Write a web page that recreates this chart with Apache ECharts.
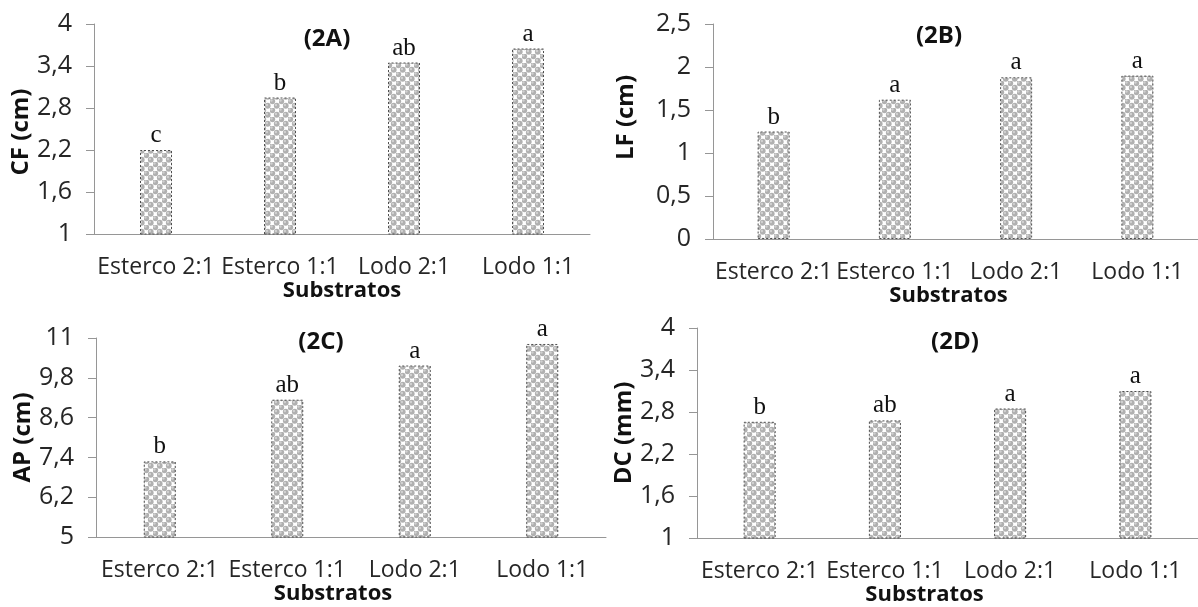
<!DOCTYPE html>
<html>
<head>
<meta charset="utf-8">
<script src="https://cdn.jsdelivr.net/npm/echarts@6/dist/echarts.min.js"></script>
<style>
html,body{margin:0;padding:0;background:#fff;}
#chart{width:1198px;height:607px;}
</style>
</head>
<body>
<div id="chart"></div>
<script>
// ---- data ----
const categories = ['Esterco 2:1', 'Esterco 1:1', 'Lodo 2:1', 'Lodo 1:1'];
const panelTitles = ['(2A)', '(2B)', '(2C)', '(2D)'];
const yNames = ['CF (cm)', 'LF (cm)', 'AP (cm)', 'DC (mm)'];
const xName = 'Substratos';

const valuesA = [2.2, 2.95, 3.45, 3.65];
const valuesB = [1.25, 1.62, 1.88, 1.9];
const valuesC = [7.28, 9.14, 10.17, 10.82];
const valuesD = [2.66, 2.68, 2.85, 3.1];

const lettersA = ['c', 'b', 'ab', 'a'];
const lettersB = ['b', 'a', 'a', 'a'];
const lettersC = ['b', 'ab', 'a', 'a'];
const lettersD = ['b', 'ab', 'a', 'a'];

const ticksA = [1, 1.6, 2.2, 2.8, 3.4, 4];
const ticksB = [0, 0.5, 1, 1.5, 2, 2.5];
const ticksC = [5, 6.2, 7.4, 8.6, 9.8, 11];
const ticksD = [1, 1.6, 2.2, 2.8, 3.4, 4];

// ---- layout / style ----
const values = [valuesA, valuesB, valuesC, valuesD];
const letters = [lettersA, lettersB, lettersC, lettersD];
const ticks = [ticksA, ticksB, ticksC, ticksD];

const grids = [
  {left: 94, top: 24, width: 496, height: 210},
  {left: 713, top: 24, width: 492, height: 215},
  {left: 96, top: 338, width: 510, height: 199},
  {left: 697, top: 328, width: 512, height: 210}
];
const yNameGap = [57, 75, 61, 59];
const yNamePad = [[0, 6, 0, 0], [0, 0, 0, 28], [0, 0, 0, 0], [0, 0, 0, 0]];
const xNameGap = [46, 41, 45, 44];
const xNamePad = [[0, 0, 0, 0], [0, 14, 0, 0], [0, 36, 0, 0], [0, 46, 0, 0]];
const titlePos = [
  {left: 322, top: 22},
  {left: 934, top: 19},
  {left: 316, top: 325},
  {left: 950, top: 325}
];

function makePattern() {
  const s = 9;
  const c = document.createElement('canvas');
  c.width = s; c.height = s;
  const g = c.getContext('2d');
  g.fillStyle = '#ffffff';
  g.fillRect(0, 0, s, s);
  const h = s / 2;
  const ball = (x, y) => {
    g.fillStyle = '#b0b0b0';
    g.beginPath(); g.arc(x, y, 2.9, 0, Math.PI * 2); g.fill();
    g.fillStyle = '#d0d0d0';
    g.beginPath(); g.arc(x - 0.8, y - 0.8, 1.2, 0, Math.PI * 2); g.fill();
  };
  const pts = [[h / 2, h / 2], [h / 2 + h, h / 2 + h], [h / 2 - h, h / 2 + h], [h / 2 + h, h / 2 - h],
               [h / 2 + s, h / 2 + h], [h / 2 + h, h / 2 + s]];
  pts.forEach(p => ball(p[0], p[1]));
  return c;
}
const pattern = makePattern();

const fmt = v => String(+(+v).toFixed(2)).replace('.', ',');
const labelFont = 'Open Sans';

const option = {
  backgroundColor: '#ffffff',
  animation: false,
  title: panelTitles.map((t, i) => ({
    text: t,
    left: titlePos[i].left,
    top: titlePos[i].top,
    textAlign: 'center',
    textStyle: {fontFamily: labelFont, fontWeight: 'bold', fontSize: 24, color: '#111'}
  })),
  grid: grids.map(g => Object.assign({containLabel: false}, g)),
  xAxis: grids.map((g, i) => ({
    type: 'category',
    gridIndex: i,
    data: categories,
    axisTick: {show: false},
    axisLine: {show: true, lineStyle: {color: '#969696', width: 1}},
    axisLabel: {interval: 0, margin: 22, fontFamily: labelFont, fontSize: 23, color: '#262626'},
    name: xName,
    nameLocation: 'middle',
    nameGap: xNameGap[i],
    nameTextStyle: {fontFamily: labelFont, fontWeight: 'bold', fontSize: 22, color: '#111', padding: xNamePad[i]}
  })),
  yAxis: ticks.map((t, i) => ({
    type: 'value',
    gridIndex: i,
    min: t[0],
    max: t[t.length - 1],
    interval: +(t[1] - t[0]).toFixed(2),
    splitLine: {show: false},
    axisLine: {show: true, lineStyle: {color: '#969696', width: 1}},
    axisTick: {show: true, length: 8, lineStyle: {color: '#969696'}},
    axisLabel: {margin: 22, fontFamily: labelFont, fontSize: 25, color: '#262626', formatter: fmt},
    name: yNames[i],
    nameLocation: 'middle',
    nameGap: yNameGap[i],
    nameTextStyle: {fontFamily: labelFont, fontWeight: 'bold', fontSize: 24, color: '#111', padding: yNamePad[i]}
  })),
  series: values.map((v, i) => ({
    type: 'bar',
    xAxisIndex: i,
    yAxisIndex: i,
    data: v,
    barWidth: 32,
    itemStyle: {
      color: {image: pattern, repeat: 'repeat'},
      borderColor: '#4f4f4f',
      borderWidth: 1,
      borderType: [2, 2]
    },
    label: {
      show: true,
      position: 'top',
      distance: 2,
      formatter: p => letters[i][p.dataIndex],
      fontFamily: 'Liberation Serif',
      fontSize: 25,
      color: '#111'
    }
  }))
};

const chart = echarts.init(document.getElementById('chart'), null, {renderer: 'canvas'});
chart.setOption(option);
</script>
</body>
</html>
